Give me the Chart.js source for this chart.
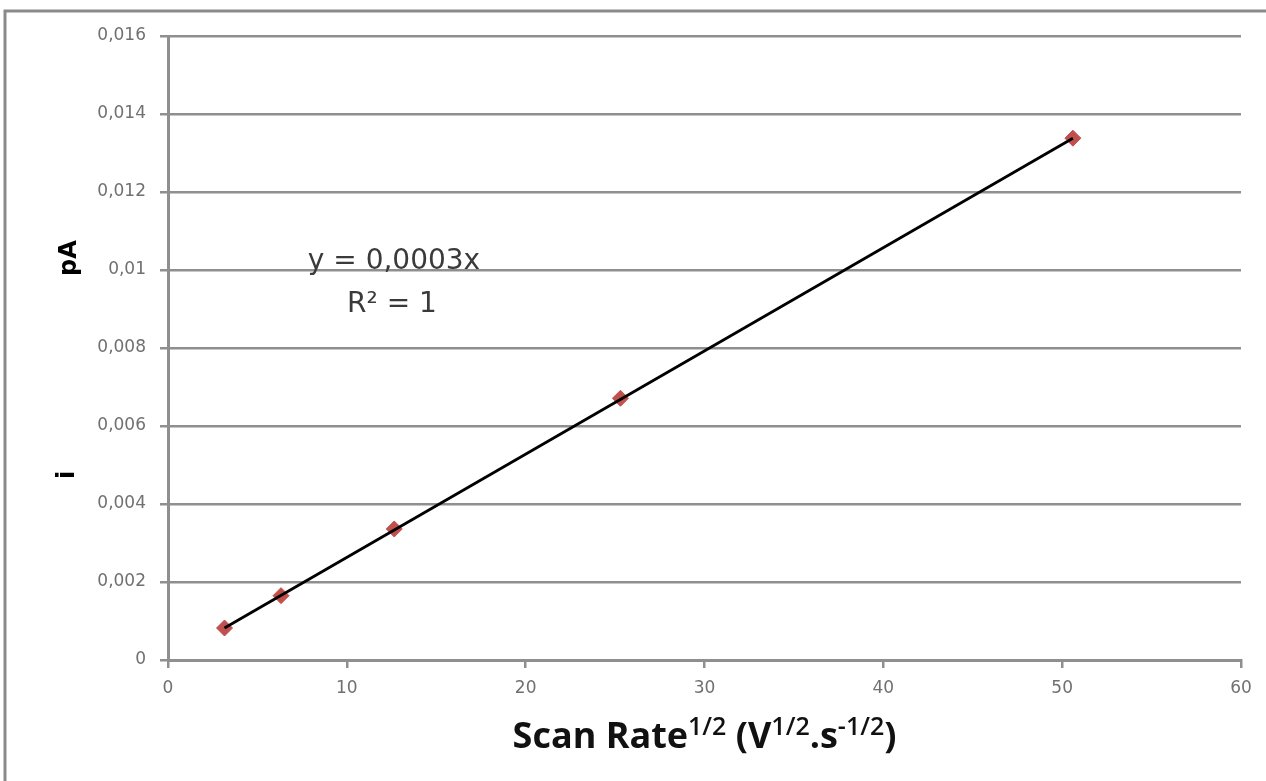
<!DOCTYPE html>
<html>
<head>
<meta charset="utf-8">
<script src="https://cdn.jsdelivr.net/npm/chart.js@4"></script>
<style>
  html, body { margin: 0; padding: 0; background: #fff; }
  #wrap { width: 1266px; height: 781px; position: relative; }
</style>
</head>
<body>
<div id="wrap"><canvas id="grafico"></canvas></div>
<script>
// raiz da velocidade de varredura (V^1/2.s^-1/2) e corrente de pico (A)
const scanRate = [3.16, 6.32, 12.65, 25.3, 50.6];
const ipico = [0.00082, 0.00165, 0.00336, 0.00671, 0.01338];
const xTicks = [0, 10, 20, 30, 40, 50, 60];
const yTicks = [0, 0.002, 0.004, 0.006, 0.008, 0.01, 0.012, 0.014, 0.016];
const equacao = ['y = 0,0003x', 'R² = 1'];

const pontos = scanRate.map((x, i) => ({ x: x, y: ipico[i] }));
// linha de tendencia entre o primeiro e o ultimo ponto
const tendencia = [pontos[0], pontos[pontos.length - 1]];

const cinza = '#8f8f8f';

function virgula(v) {
    return Number(v.toFixed(4)).toString().replace('.', ',');
}

// moldura, titulos e equacao
const extras = {
    id: 'extras',
    beforeDraw(chart) {
        const c = chart.ctx;
        c.save();
        c.fillStyle = '#fff';
        c.fillRect(0, 0, chart.width, chart.height);
        c.strokeStyle = '#8a8a8a';
        c.lineWidth = 3;
        c.beginPath();
        c.moveTo(5, chart.height);
        c.lineTo(5, 11);
        c.lineTo(chart.width, 11);
        c.stroke();
        c.restore();
    },
    afterDraw(chart) {
        const c = chart.ctx;
        const area = chart.chartArea;
        c.save();

        // equacao da reta
        c.fillStyle = '#3a3a3a';
        c.textAlign = 'center';
        c.textBaseline = 'alphabetic';
        c.font = '28px "DejaVu Sans", sans-serif';
        c.fillText(equacao[0], 394, 269);
        c.fillText(equacao[1], 392, 312);

        // titulo do eixo x com sobrescritos
        const partes = [
            ['Scan Rate', false], ['1/2', true], [' (V', false], ['1/2', true],
            ['.s', false], ['-1/2', true], [')', false]
        ];
        const fNormal = 'bold 36px "Open Sans", sans-serif';
        const fSup = '600 25px "Open Sans", sans-serif';
        let total = 0;
        partes.forEach(p => {
            c.font = p[1] ? fSup : fNormal;
            total += c.measureText(p[0]).width;
        });
        let x = (area.left + area.right) / 2 - total / 2;
        const base = 748;
        c.fillStyle = '#111';
        c.textAlign = 'left';
        partes.forEach(p => {
            c.font = p[1] ? fSup : fNormal;
            c.fillText(p[0], x, p[1] ? base - 13 : base);
            x += c.measureText(p[0]).width;
        });

        // titulo do eixo y (rotacionado)
        c.font = 'bold 24px "DejaVu Sans", sans-serif';
        c.fillStyle = '#000';
        c.textAlign = 'center';
        c.textBaseline = 'middle';
        c.translate(68, 475);
        c.rotate(-Math.PI / 2);
        c.fillText('i', 0, 0);
        c.rotate(Math.PI / 2);
        c.translate(2, 258 - 475);
        c.rotate(-Math.PI / 2);
        c.fillText('pA', 0, 0);
        c.restore();
    }
};

new Chart(document.getElementById('grafico'), {
    type: 'scatter',
    data: {
        datasets: [
            {
                label: 'tendencia',
                data: tendencia,
                showLine: true,
                borderColor: '#000',
                borderWidth: 2.8,
                pointRadius: 0,
                order: 0
            },
            {
                label: 'ip',
                data: pontos,
                pointStyle: 'rectRot',
                pointRadius: 8,
                pointBackgroundColor: '#c0504d',
                pointBorderColor: '#c0504d',
                order: 1
            }
        ]
    },
    plugins: [extras],
    options: {
        responsive: true,
        maintainAspectRatio: false,
        animation: false,
        layout: { padding: { top: 36, right: 25, left: 0, bottom: 0 } },
        plugins: {
            legend: { display: false },
            tooltip: { enabled: false }
        },
        scales: {
            x: {
                type: 'linear',
                min: 0,
                max: 60,
                afterFit(s) { s.height = 121; },
                afterBuildTicks(s) { s.ticks = xTicks.map(v => ({ value: v })); },
                grid: {
                    drawOnChartArea: false,
                    color: cinza,
                    lineWidth: 2.5,
                    tickLength: 8
                },
                border: { color: cinza, width: 3 },
                ticks: {
                    color: '#707070',
                    padding: 10,
                    font: { family: '"DejaVu Sans", sans-serif', size: 17 },
                    callback: v => virgula(v)
                }
            },
            y: {
                min: 0,
                max: 0.016,
                afterFit(s) { s.width = 168; },
                afterBuildTicks(s) { s.ticks = yTicks.map(v => ({ value: v })); },
                grid: {
                    color: cinza,
                    lineWidth: 2.5,
                    tickLength: 8
                },
                border: { color: cinza, width: 3 },
                ticks: {
                    color: '#707070',
                    padding: 14,
                    font: { family: '"DejaVu Sans", sans-serif', size: 17 },
                    callback: v => virgula(v)
                }
            }
        }
    }
});
</script>
</body>
</html>
